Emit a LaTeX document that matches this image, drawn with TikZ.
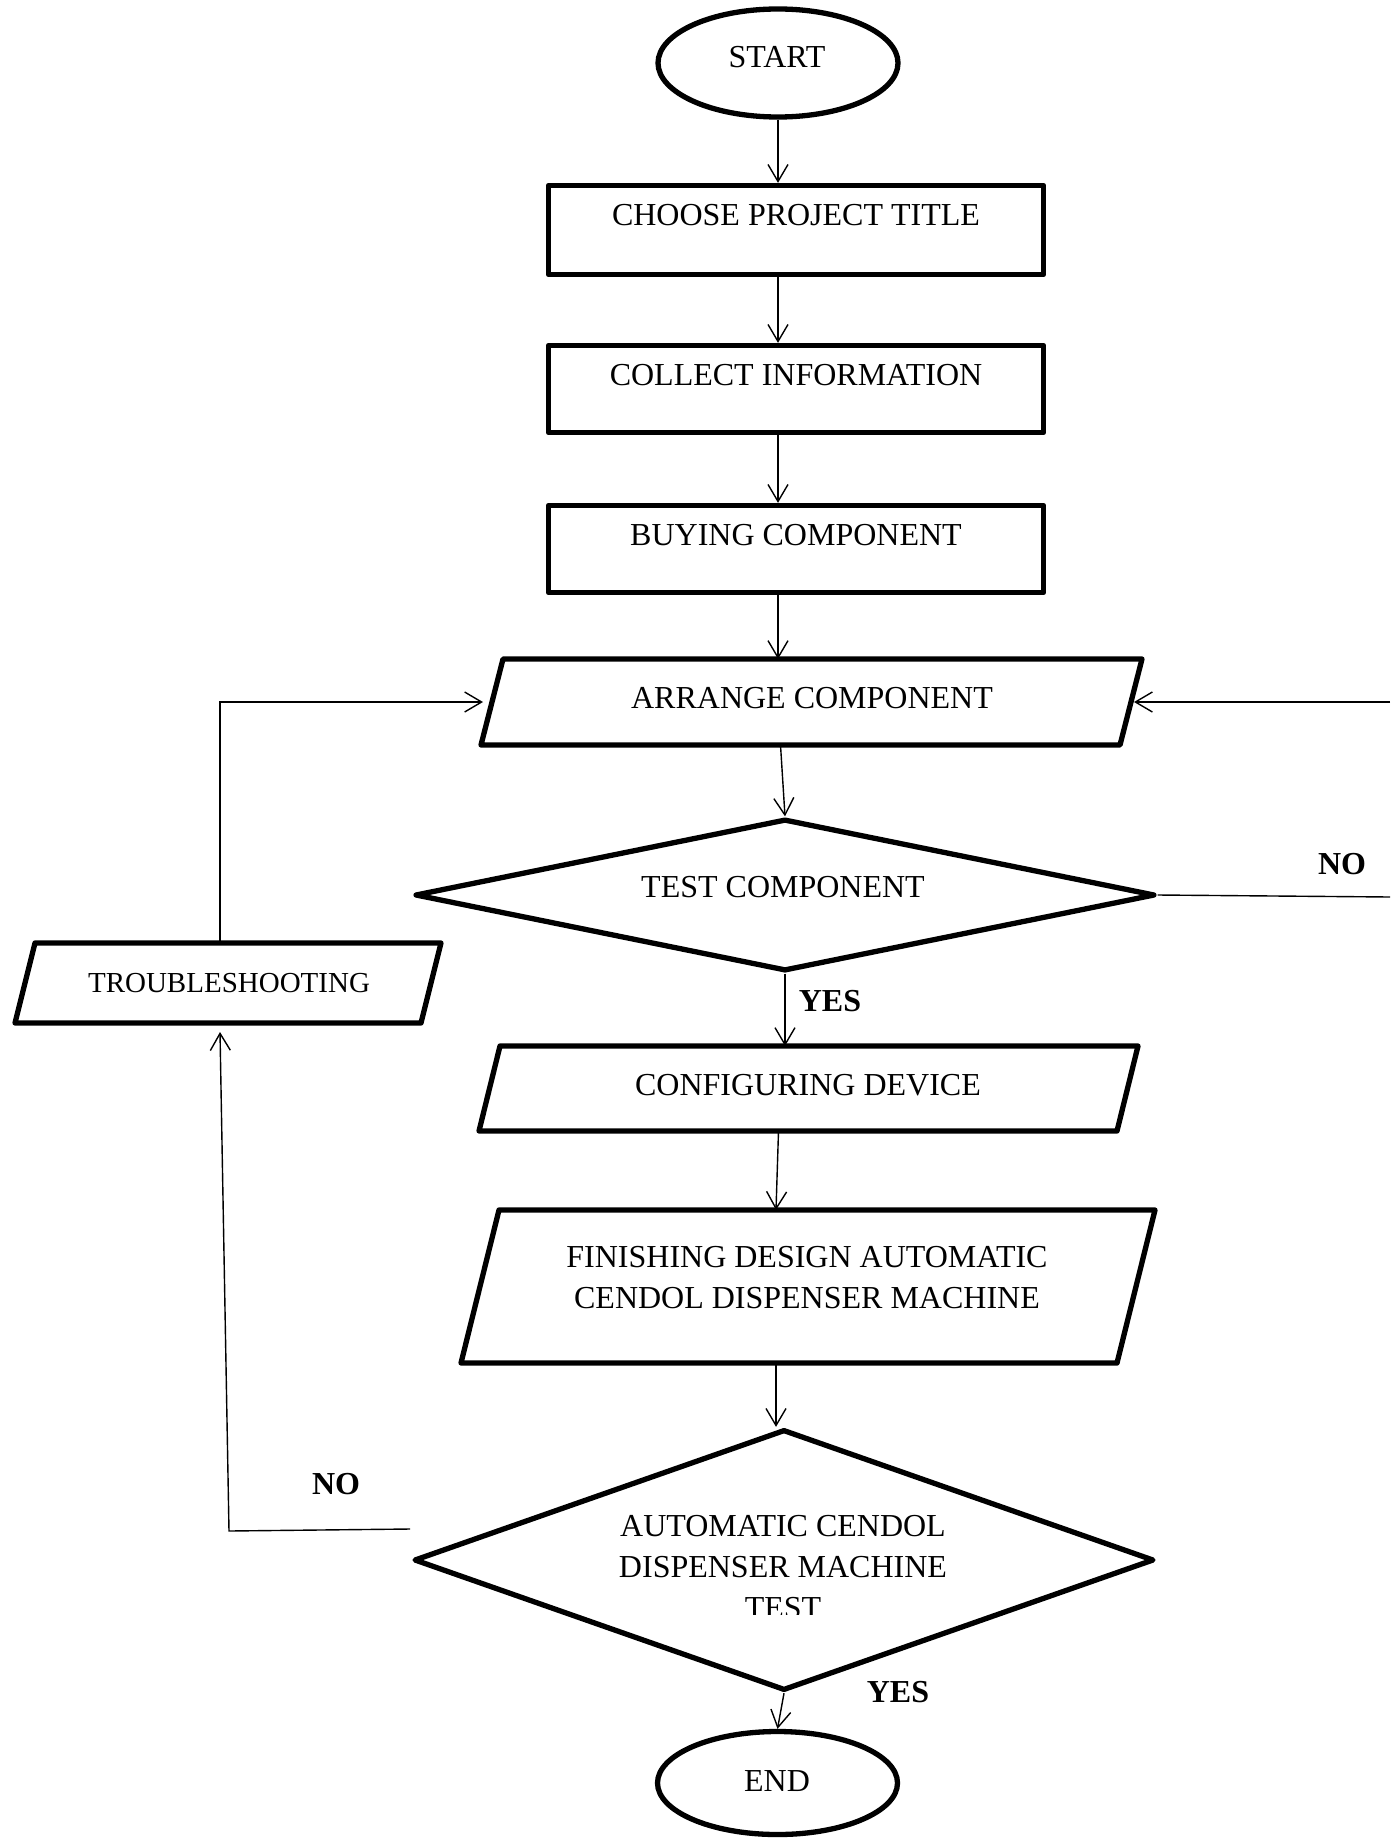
\documentclass[tikz,border=0pt]{standalone}
\usepackage{fontspec}
\setmainfont{Liberation Serif}
\usetikzlibrary{shapes.geometric,arrows.meta,calc}
\newcommand{\pgmdraw}[2]{\draw[shapeline] ([xshift=#2pt]#1.north west) -- (#1.north east) -- ([xshift=-#2pt]#1.south east) -- (#1.south west) -- cycle;}
\begin{document}
\begin{tikzpicture}[x=1pt,y=-1pt,
  every node/.style={font=\fontsize{32}{41}\selectfont},
  shapeline/.style={line width=5.3pt, line join=round},
  box/.style={draw, shapeline, rectangle, inner sep=0pt},
  pbox/.style={rectangle, inner sep=0pt, outer sep=0pt},
  oval/.style={draw, shapeline, ellipse, inner sep=0pt},
  dec/.style={draw, shapeline, diamond, inner sep=0pt},
  txt/.style={align=center, inner sep=0pt},
  lbl/.style={font=\fontsize{32}{41}\selectfont\bfseries, inner sep=0pt},
  conn/.style={line width=1.4pt},
  arr/.style={conn, -{Straight Barb[length=17pt,width=20pt]}}
]
\useasboundingbox (0,0) rectangle (1390,1843);
\fill[white] (0,0) rectangle (1390,1843);

% shapes
\node[oval, minimum width=240, minimum height=108] (start) at (778,63) {};
\node[txt] (startT) at (777,57) {START};

\node[box, minimum width=495, minimum height=89] (choose) at (796,230) {};
\node[txt] (chooseT) at (796,215) {CHOOSE PROJECT TITLE};

\node[box, minimum width=495, minimum height=87] (collect) at (796,389) {};
\node[txt] (collectT) at (796,375) {COLLECT INFORMATION};

\node[box, minimum width=495, minimum height=87] (buying) at (796,549) {};
\node[txt] (buyingT) at (796,535) {BUYING COMPONENT};

\node[pbox, minimum width=661, minimum height=86] (arrange) at (811.5,702) {};
\pgmdraw{arrange}{22}
\node[txt] (arrangeT) at (812,698) {ARRANGE COMPONENT};

\node[dec, minimum width=740, minimum height=152] (test) at (785,895) {};
\node[txt] (testT) at (783,887) {TEST COMPONENT};

\node[pbox, minimum width=426, minimum height=80] (trouble) at (228,983) {};
\pgmdraw{trouble}{20}
\node[txt, font=\fontsize{29}{36}\selectfont] (troubleT) at (229,983) {TROUBLESHOOTING};

\node[pbox, minimum width=659, minimum height=85] (config) at (808.5,1088.5) {};
\pgmdraw{config}{21}
\node[txt] (configT) at (808,1085) {CONFIGURING DEVICE};

\node[pbox, minimum width=694, minimum height=153] (finish) at (808,1286.5) {};
\pgmdraw{finish}{38}
\node[txt] (finishT) at (807,1277.5) {FINISHING DESIGN AUTOMATIC\\CENDOL DISPENSER MACHINE};

\node[dec, minimum width=740, minimum height=261] (auto) at (784,1560) {};
\begin{scope}
\clip (560,1480) rectangle (1010,1614);
\node[txt] (autoT) at (783,1567) {AUTOMATIC CENDOL\\DISPENSER MACHINE\\TEST};
\end{scope}

\node[oval, minimum width=240, minimum height=103] (stop) at (777.5,1783) {};
\node[txt] (stopT) at (777,1781) {END};

% connectors
\draw[arr] (start.south) -- (start.south |- choose.north);
\draw[arr] (choose.south -| start.south) -- (collect.north -| start.south);
\draw[arr] (collect.south -| start.south) -- (buying.north -| start.south);
\draw[arr] (buying.south -| start.south) -- (arrange.north -| start.south);
\draw[arr] ([xshift=-31pt]arrange.south) -- (test.north);
\draw[arr] (test.south) -- (test.south |- config.north);
\draw[arr] ([xshift=-30pt]config.south) -- ([xshift=-32pt]finish.north);
\draw[arr] ([xshift=-32pt]finish.south) -- ([xshift=-32pt]finish.south |- auto.north);
\draw[arr] (auto.south) -- (stop.north);

\coordinate (noR) at (1390,897);
\coordinate (backR) at (1390,702);
\draw[conn] (test.east) -- (noR);
\draw[arr] (backR) -- ([xshift=-8pt]arrange.east);

\coordinate (noL) at (410,1529);
\coordinate (noLc) at (229,1531);
\draw[arr] (noL) -- (noLc) -- ([xshift=-8pt,yshift=-9pt]trouble.south);
\draw[arr] ([xshift=-8pt]trouble.north) |- ([xshift=2pt]arrange.west);

% labels
\node[lbl] (noRL) at (1342,864) {NO};
\node[lbl] (yesA) at (830,1001) {YES};
\node[lbl] (noLL) at (336,1484) {NO};
\node[lbl] (yesB) at (898,1692) {YES};
\end{tikzpicture}
\end{document}
